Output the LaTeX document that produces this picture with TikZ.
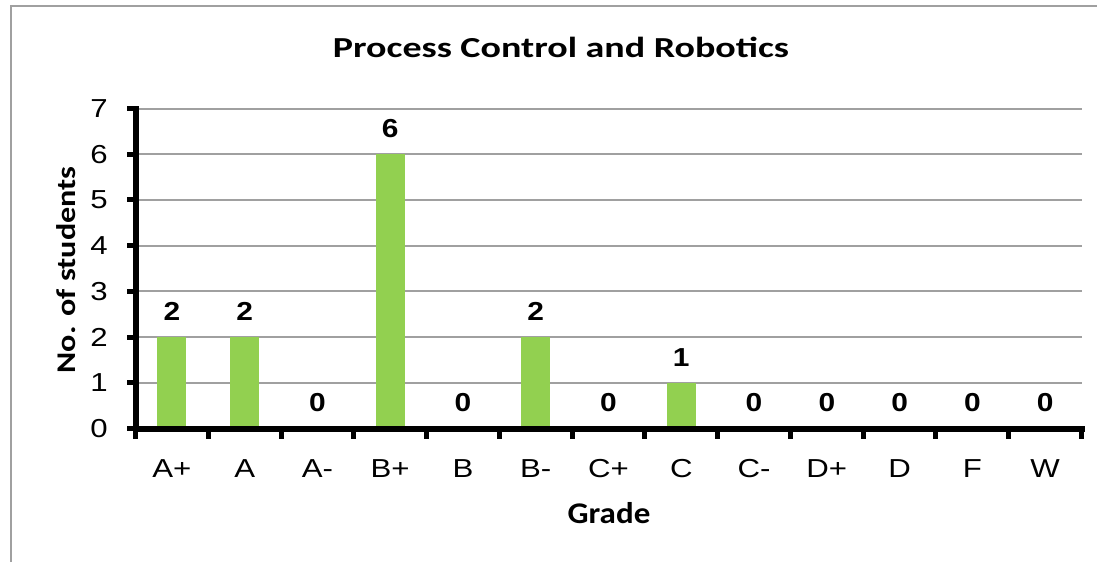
\documentclass[tikz,border=0pt]{standalone}
\usepackage{fontspec}
\setmainfont{Liberation Sans}
\newfontfamily\calibri{Carlito}
\usepackage{tikz}
\usetikzlibrary{positioning}
\definecolor{barcolor}{HTML}{92D050}
\definecolor{gridgray}{HTML}{A0A0A0}
\tikzset{
         gradebar/.style={fill=barcolor, draw=none},
         gridline/.style={draw=gridgray, line width=2pt},
         axisline/.style={line width=6pt, line cap=rect},
         tickmark/.style={line width=5pt},
         valuelabel/.style={font=\fontsize{26}{30}\selectfont\bfseries, inner sep=0pt, xscale=1.15},
         ticklabel/.style={font=\fontsize{26}{30}\selectfont, inner sep=0pt, xscale=1.2},
         axistitle/.style={font=\calibri\fontsize{29}{33}\selectfont\bfseries, inner sep=0pt},
}

\begin{document}
\begin{tikzpicture}[x=1pt, y=-1pt]
    \useasboundingbox (0,0) rectangle (1097,562);
    % Rahmen
    \draw[gridline] (11,562) -- (11,6) -- (1097,6);
    \node[axistitle, anchor=base, xscale=1.31] (title) at (561,57) {Process Control and Robotics};
    \node[axistitle, anchor=base, font=\calibri\fontsize{27}{31}\selectfont\bfseries, rotate=90, xscale=1.19] (ytitle) at (75,270) {No. of students};
    \node[axistitle, anchor=base, font=\calibri\fontsize{30}{34}\selectfont\bfseries, xscale=1.1] (xtitle) at (609,523) {Grade};

    \begin{scope}[shift={(135.5,428.5)}, x=72.77pt, y=45.71pt]
    % Gitter
    \foreach \v in {1,...,7}
        \draw[gridline] (0,\v) -- (13,\v);

    % Balken
    \fill[gradebar] (0.3,0) rectangle (0.7,2);
    \fill[gradebar] (1.3,0) rectangle (1.7,2);
    \fill[gradebar] (3.3,0) rectangle (3.7,6);
    \fill[gradebar] (5.3,0) rectangle (5.7,2);
    \fill[gradebar] (7.3,0) rectangle (7.7,1);

    % Werte
    \node[valuelabel] (vApl) at (0.5,2.56) {2};
    \node[valuelabel] (vA) at (1.5,2.56) {2};
    \node[valuelabel] (vAmi) at (2.5,0.56) {0};
    \node[valuelabel] (vBpl) at (3.5,6.56) {6};
    \node[valuelabel] (vB) at (4.5,0.56) {0};
    \node[valuelabel] (vBmi) at (5.5,2.56) {2};
    \node[valuelabel] (vCpl) at (6.5,0.56) {0};
    \node[valuelabel] (vC) at (7.5,1.56) {1};
    \node[valuelabel] (vCmi) at (8.5,0.56) {0};
    \node[valuelabel] (vDpl) at (9.5,0.56) {0};
    \node[valuelabel] (vD) at (10.5,0.56) {0};
    \node[valuelabel] (vF) at (11.5,0.56) {0};
    \node[valuelabel] (vW) at (12.5,0.56) {0};

    % Achsen
    \foreach \v in {0,...,7}
        \draw[tickmark] (-0.11,\v) -- (0,\v);
    \foreach \c in {0,...,13}
        \draw[tickmark] (\c,0) -- (\c,-0.22);
    \draw[axisline] (0,7) -- (0,0) -- (13,0);

    % Achsenbeschriftung
    \foreach \v in {0,...,7}
        \node[ticklabel, anchor=east] (y\v) at (-0.378,\v) {\v};
    \node[ticklabel, anchor=base] (gApl) at (0.5,-1.061) {A+};
    \node[ticklabel, anchor=base] (gA) at (1.5,-1.061) {A};
    \node[ticklabel, anchor=base] (gAmi) at (2.5,-1.061) {A-};
    \node[ticklabel, anchor=base] (gBpl) at (3.5,-1.061) {B+};
    \node[ticklabel, anchor=base] (gB) at (4.5,-1.061) {B};
    \node[ticklabel, anchor=base] (gBmi) at (5.5,-1.061) {B-};
    \node[ticklabel, anchor=base] (gCpl) at (6.5,-1.061) {C+};
    \node[ticklabel, anchor=base] (gC) at (7.5,-1.061) {C};
    \node[ticklabel, anchor=base] (gCmi) at (8.5,-1.061) {C-};
    \node[ticklabel, anchor=base] (gDpl) at (9.5,-1.061) {D+};
    \node[ticklabel, anchor=base] (gD) at (10.5,-1.061) {D};
    \node[ticklabel, anchor=base] (gF) at (11.5,-1.061) {F};
    \node[ticklabel, anchor=base] (gW) at (12.5,-1.061) {W};
    \end{scope}
\end{tikzpicture}
\end{document}
